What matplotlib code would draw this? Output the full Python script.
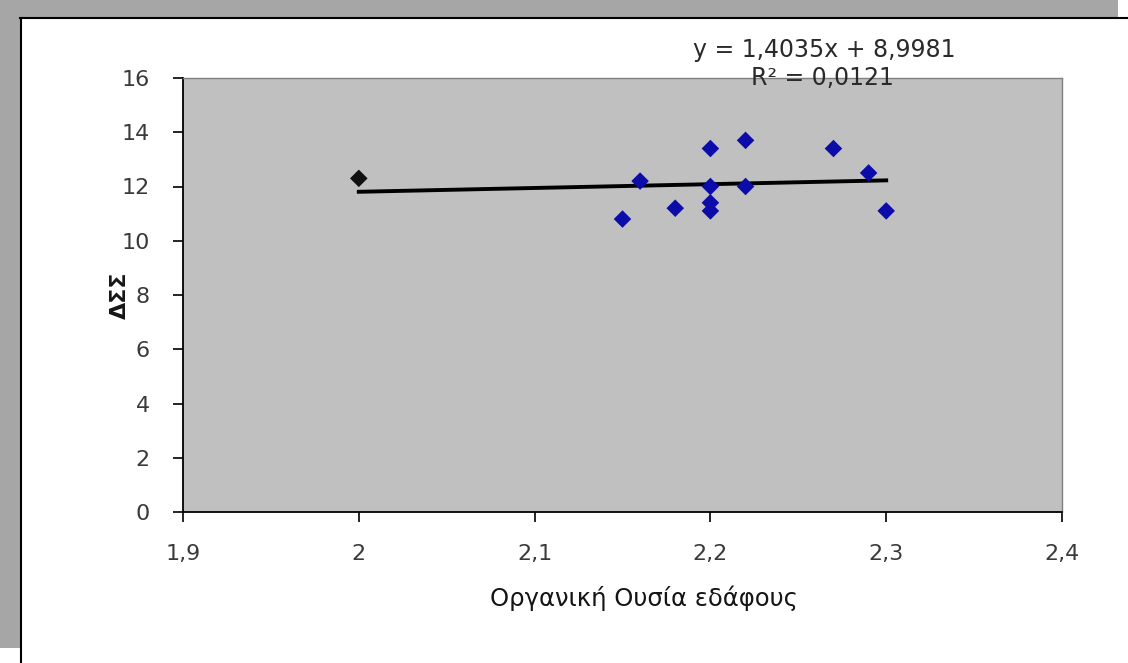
import matplotlib
matplotlib.use("Agg")
import matplotlib.pyplot as plt
from matplotlib.patches import Rectangle
from matplotlib.lines import Line2D
import numpy as np

plt.rcParams['font.family'] = ['DejaVu Sans']

# Data
organic_matter = [2.00, 2.15, 2.16, 2.18, 2.20, 2.20, 2.20, 2.20, 2.22, 2.22, 2.27, 2.29, 2.30]
dss = [12.3, 10.8, 12.2, 11.2, 13.4, 12.0, 11.4, 11.1, 13.7, 12.0, 13.4, 12.5, 11.1]
point_colors = ['#111111'] + ['#0c0caa'] * 12
slope, intercept = 1.4035, 8.9981
r2 = 0.0121
x_ticks = [1.9, 2.0, 2.1, 2.2, 2.3, 2.4]
x_tick_labels = ["1,9", "2", "2,1", "2,2", "2,3", "2,4"]
y_ticks = [0, 2, 4, 6, 8, 10, 12, 14, 16]
x_label = "Οργανική Ουσία εδάφους"
y_label = "ΔΣΣ"

W, H = 1128, 663
fig = plt.figure(figsize=(W / 100, H / 100), dpi=100)
fig.patch.set_facecolor('white')

def fx(px):
    return px / W

def fy(py):
    return 1 - py / H

# outer gray frame
fig.patches.append(Rectangle((fx(0), fy(17)), fx(1118), 17 / H, transform=fig.transFigure,
                             facecolor='#a6a6a6', edgecolor='none', zorder=0))
fig.patches.append(Rectangle((fx(0), fy(648)), fx(20), 648 / H, transform=fig.transFigure,
                             facecolor='#a6a6a6', edgecolor='none', zorder=0))
fig.lines.append(Line2D([fx(20), fx(1128)], [fy(18), fy(18)], transform=fig.transFigure,
                        color='black', lw=1.5))
fig.lines.append(Line2D([fx(21), fx(21)], [fy(18), fy(663)], transform=fig.transFigure,
                        color='black', lw=1.5))

ax_l, ax_r, ax_t, ax_b = 183, 1062, 78, 512
ax = fig.add_axes([fx(ax_l), fy(ax_b), (ax_r - ax_l) / W, (ax_b - ax_t) / H])
ax.set_facecolor('#c0c0c0')

ax.scatter(organic_matter, dss, marker='D', s=80, c=point_colors, zorder=3, linewidths=0)

xs = np.array([min(organic_matter), max(organic_matter)])
ax.plot(xs, slope * xs + intercept, color='black', lw=2.8, zorder=2)

ax.set_xlim(1.9, 2.4)
ax.set_ylim(0, 16)
ax.set_xticks(x_ticks)
ax.set_xticklabels(x_tick_labels)
ax.set_yticks(y_ticks)

for s in ['top', 'right']:
    ax.spines[s].set_color('#808080')
    ax.spines[s].set_linewidth(1)
for s in ['left', 'bottom']:
    ax.spines[s].set_color('black')
    ax.spines[s].set_linewidth(1.3)

ax.tick_params(axis='both', direction='out', length=7, width=1.2, color='black',
               labelsize=16, labelcolor='#3a3a3a')
ax.tick_params(axis='y', pad=17)
ax.tick_params(axis='x', pad=16)

ax.set_xlabel(x_label, fontsize=17.5, color='#151515')
ax.xaxis.set_label_coords((644 - ax_l) / (ax_r - ax_l), -(598 - ax_b) / (ax_b - ax_t))
ax.xaxis.label.set_va('center')
ax.set_ylabel(y_label, fontsize=16, fontweight='bold', color='#151515')
ax.yaxis.set_label_coords(-(ax_l - 120) / (ax_r - ax_l), 0.5)
ax.yaxis.label.set_va('center')

eq = f"y = {slope:.4f}x + {intercept:.4f}".replace('.', ',')
r2txt = f"R² = {r2:.4f}".replace('.', ',')
fig.text(fx(824), fy(50), eq, ha='center', va='center', fontsize=17, color='#2a2a2a')
fig.text(fx(822), fy(78), r2txt, ha='center', va='center', fontsize=17, color='#2a2a2a', zorder=5)

fig.savefig('out.png', dpi=100)
